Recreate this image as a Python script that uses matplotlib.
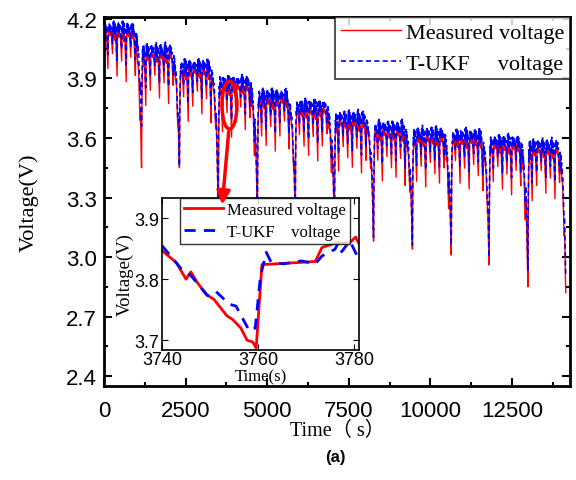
import numpy as np
import matplotlib
matplotlib.use('Agg')
import matplotlib.pyplot as plt
from matplotlib.patches import Ellipse, FancyArrowPatch
from matplotlib.ticker import MultipleLocator, FormatStrFormatter

# end time of every discharge block (bottom of the deep dip), s
dip_times = [1164, 2328, 3522, 4717, 5880, 7075, 8270, 9464, 10658, 11822, 13016, 14180]
# flat top level of each block, V
top_meas = [4.14, 4.03, 3.95, 3.87, 3.80, 3.75, 3.69, 3.64, 3.61, 3.60, 3.57, 3.55]
top_est = [4.16, 4.05, 3.97, 3.89, 3.82, 3.77, 3.71, 3.66, 3.63, 3.62, 3.59, 3.57]
# lowest point of the deep dip closing each block, V
dip_meas = [3.45, 3.45, 3.25, 3.22, 3.20, 3.15, 3.08, 3.04, 3.01, 2.96, 2.85, 2.82]
dip_est = [3.66, 3.46, 3.27, 3.24, 3.22, 3.17, 3.10, 3.06, 3.06, 3.00, 2.93, 2.90]

# one load cycle (10 s samples), change from block top, V
cycle_meas = [0.0, -0.02, -0.005, -0.03, -0.01, -0.04, -0.015, -0.03, -0.02, -0.06, -0.10, -0.15, -0.19, -0.04]
cycle_est = [0.02, -0.02, 0.025, -0.03, 0.015, -0.035, 0.01, -0.02, 0.0, -0.05, -0.08, -0.11, -0.14, 0.0]
# depth factor of successive cycles inside a block
spike_scale = [1.0, 0.6, 1.2, 0.8, 1.35, 0.7, 1.0, 1.25, 0.75, 1.4]
# recovery at block start and sag at block end (fraction of top-dip)
rise_frac = [0.5, 0.8, 0.9, 0.95]
tail_frac = [0.02, 0.03, 0.04, 0.05, 0.06, 0.07, 0.08, 0.09, 0.10, 0.12, 0.14, 0.16,
             0.18, 0.20, 0.23, 0.26, 0.30, 0.35, 0.40, 0.47, 0.55, 0.65, 0.78, 0.90, 1.0]

# zoomed window
ins_t_meas = [3740, 3743, 3745, 3746, 3747.3, 3749.2, 3750.8, 3753.5, 3754.7, 3756.4, 3757.7,
              3758.9, 3759.6, 3760.8, 3763.5, 3771.9, 3773.3, 3776, 3779.1, 3780.3, 3781.4]
ins_v_meas = [3.847, 3.827, 3.800, 3.812, 3.795, 3.775, 3.767, 3.740, 3.734, 3.720, 3.700,
              3.697, 3.687, 3.824, 3.825, 3.829, 3.852, 3.859, 3.860, 3.869, 3.852]
ins_t_est = [3740, 3744, 3746, 3749.5, 3751.2, 3754, 3755.4, 3758.2, 3759.4, 3760.5, 3761.7,
             3762.7, 3765.2, 3769, 3771.9, 3773.3, 3776, 3776.7, 3777.4, 3779.1, 3780.8]
ins_v_est = [3.855, 3.817, 3.806, 3.773, 3.780, 3.759, 3.756, 3.715, 3.720, 3.805, 3.844,
             3.828, 3.825, 3.830, 3.825, 3.838, 3.849, 3.860, 3.845, 3.863, 3.835]

dt = 10


def build(tops, dips, cycle):
    out = []
    start = 0
    prev = tops[0]
    tail = np.array(tail_frac)
    for k, end in enumerate(dip_times):
        n = int(round((end - start) / dt))
        v = np.full(n, tops[k], dtype=float)
        for i, f in enumerate(rise_frac):
            v[i] = prev + f * (tops[k] - prev)
        wave = np.resize(cycle, n) * np.resize(np.repeat(np.roll(spike_scale, k), len(cycle)), n)
        wave[-len(tail):] *= (1 - tail)
        v[-len(tail):] -= tail * (tops[k] - dips[k])
        out.append(v + wave)
        prev = dips[k]
        start = end
    return np.concatenate(out)


v_meas = build(top_meas, dip_meas, cycle_meas)
v_est = build(top_est, dip_est, cycle_est)
t = np.arange(len(v_meas)) * dt

serif = ['Liberation Serif', 'Noto Sans CJK SC']
plt.rcParams['font.family'] = ['Liberation Sans', 'DejaVu Sans']

fig = plt.figure(figsize=(5.76, 4.81), dpi=100)
ax = fig.add_axes([0.1806, 0.1954, 0.8090, 0.7672])

ax.plot(t, v_meas, color='#ff0000', lw=1.0, label='Measured voltage')
ax.plot(t, v_est, color='#0000ff', lw=1.2, linestyle=(0, (3, 2)), label='T-UKF     voltage')

ax.set_xlim(0, 14280)
ax.set_ylim(2.35, 4.21)
ax.xaxis.set_major_locator(MultipleLocator(2500))
ax.xaxis.set_minor_locator(MultipleLocator(1250))
ax.yaxis.set_major_locator(MultipleLocator(0.3))
ax.yaxis.set_minor_locator(MultipleLocator(0.15))
ax.yaxis.set_major_formatter(FormatStrFormatter('%.1f'))
ax.tick_params(which='both', direction='in', top=True, right=True, width=1.5, labelsize=16)
ax.tick_params(which='major', length=6)
ax.tick_params(which='minor', length=3)
ax.tick_params(axis='x', pad=10)
ax.tick_params(axis='y', pad=5)
for s in ax.spines.values():
    s.set_linewidth(2)
ax.set_xlabel('Time（ s）', family=serif, fontsize=14.5, labelpad=0)
ax.set_ylabel('Voltage(V)', family=serif, fontsize=16, labelpad=20)

leg = ax.legend(loc='upper right', borderaxespad=0, fancybox=False, edgecolor='black',
                prop={'family': serif, 'size': 16}, handlelength=2.7, handletextpad=0.25,
                labelspacing=0.45, borderpad=0.25)
leg.get_frame().set_linewidth(1.2)

# inset
axi = fig.add_axes([0.28125, 0.27027, 0.3420, 0.3160])
axi.plot(ins_t_meas, ins_v_meas, color='#ff0000', lw=2, label='Measured voltage')
axi.plot(ins_t_est, ins_v_est, color='#0000ff', lw=2, linestyle=(0, (4, 3)), label='T-UKF    voltage')
axi.set_xlim(3740, 3781)
axi.set_ylim(3.684, 3.933)
axi.set_xticks([3740, 3760, 3780])
axi.set_yticks([3.7, 3.8, 3.9])
axi.tick_params(direction='in', top=True, right=True, length=4, labelsize=13)
axi.tick_params(axis='x', pad=1)
axi.tick_params(axis='y', pad=2)
for s in axi.spines.values():
    s.set_linewidth(1.2)
axi.set_xlabel('Time(s)', family=serif, fontsize=12, labelpad=0)
axi.set_ylabel('Voltage(V)', family=serif, fontsize=13.5, labelpad=0)
li = axi.legend(loc='upper right', bbox_to_anchor=(0.954, 1.0), borderaxespad=0, fancybox=False,
                edgecolor='black', prop={'family': serif, 'size': 12}, handlelength=2.3,
                handletextpad=0.25, labelspacing=0.35, borderpad=0.25)
li.get_frame().set_linewidth(1.0)

# marker of the zoomed region
fig.add_artist(Ellipse((3844, 3.766), 459, 0.242, transform=ax.transData, fill=False,
                       edgecolor='#ff0000', lw=2.5, zorder=5))
fig.add_artist(FancyArrowPatch((3828, 3.645), (3614, 3.25), transform=ax.transData,
                               arrowstyle='-|>,head_length=8,head_width=4', color='#ff0000',
                               lw=2.5, zorder=5))

fig.text(0.582, 0.048, '(a)', fontsize=12, fontweight='bold', ha='center', va='center')

fig.savefig('out.png', dpi=100)
